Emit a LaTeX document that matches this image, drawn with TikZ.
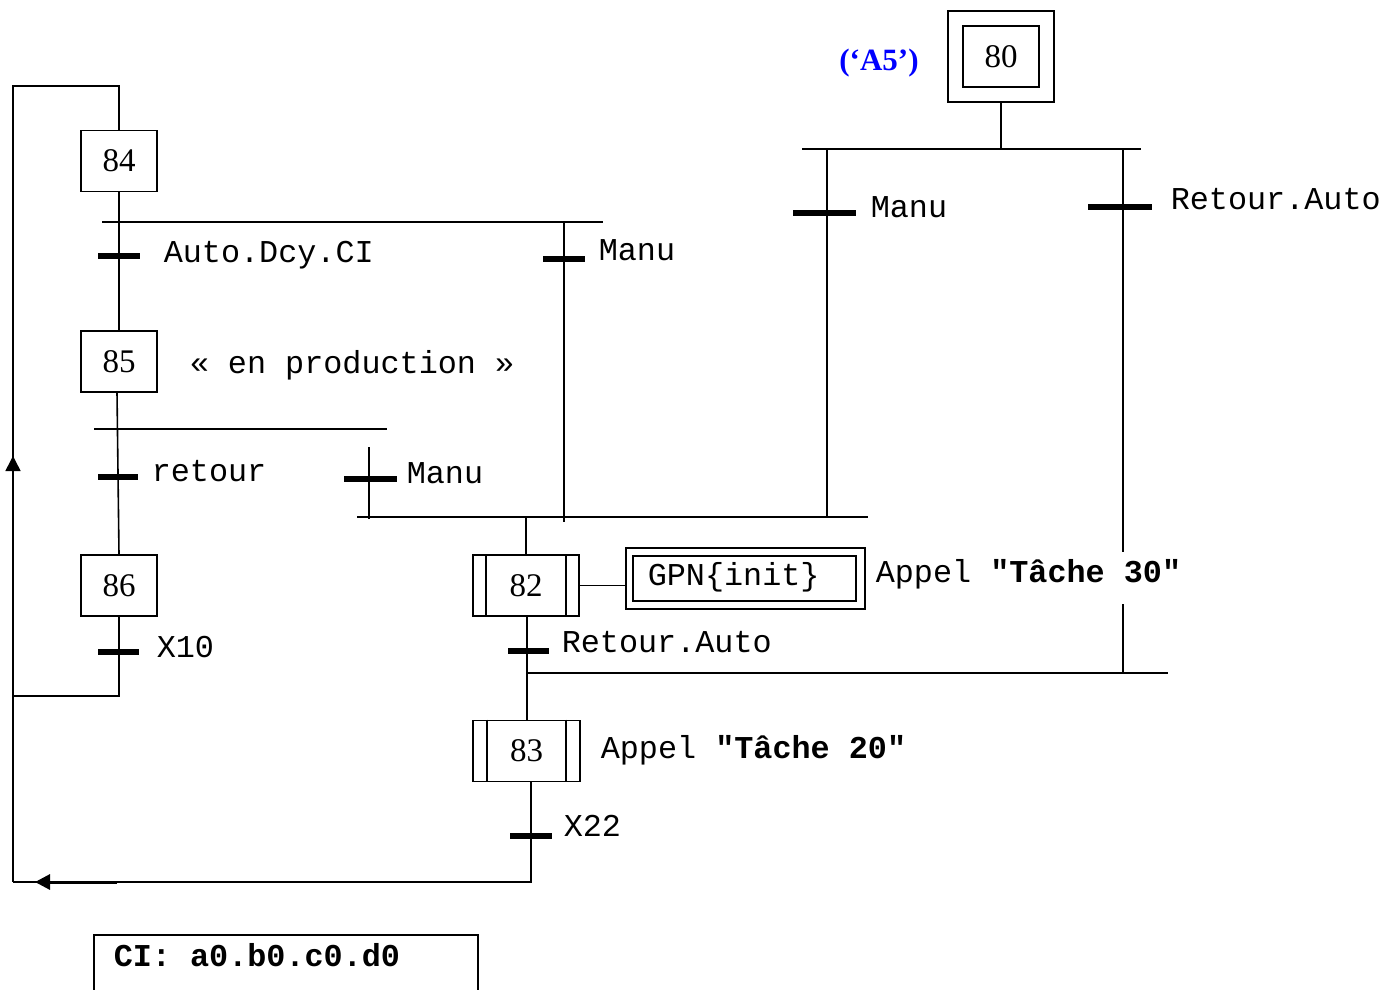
\documentclass[tikz,border=0pt]{standalone}
\usepackage{fontspec}
\setmainfont{Liberation Serif}
\setmonofont{Liberation Mono}
\usetikzlibrary{calc,arrows.meta}
\begin{document}
\begin{tikzpicture}[x=1pt,y=-1pt,line width=1.6pt,
  stepbox/.style={draw, minimum width=76pt, minimum height=61pt, inner sep=0pt, font=\fontsize{33}{36}\selectfont},
  macrobox/.style={draw, minimum width=106pt, minimum height=61pt, inner sep=0pt, font=\fontsize{33}{36}\selectfont},
  trbar/.style={line width=6pt},
  lbl/.style={anchor=base west, inner sep=0pt, font=\ttfamily\fontsize{31.8}{36}\selectfont},
  arr/.style={-{Triangle[length=15pt,width=15pt]}}
]
\useasboundingbox (0,0) rectangle (1397,989);

% ---- initial step 80
\node[draw, minimum width=106pt, minimum height=91pt, inner sep=0pt] (s80o) at (1001,56.5) {};
\node[stepbox] (s80) at (1001,56.5) {80};
\node[anchor=base, inner sep=0pt, text=blue, font=\bfseries\fontsize{31}{36}\selectfont] (a5) at (879,70) {(‘A5’)};
\coordinate (j80) at (1001,149);
\draw (s80o.south) -- (j80);
\draw (802,149) -- (1141,149);
% left branch Manu
\coordinate (m1t) at (827,149);
\coordinate (m1b) at (827,517);
\draw (m1t) -- (m1b);
\draw[trbar] (793,213) -- (856,213);
\node[lbl] (lm1) at (870,217) {Manu};
% right branch Retour.Auto
\coordinate (r1t) at (1123,149);
\coordinate (r1a) at (1123,552);
\coordinate (r1c) at (1123,604);
\coordinate (r1b) at (1123,673);
\draw (r1t) -- (r1a);
\draw (r1c) -- (r1b);
\draw[trbar] (1088,207) -- (1152,207);
\node[lbl] (lr1) at (1170,209) {Retour.Auto};

% ---- step 84 and loop
\node[stepbox] (s84) at (119,161) {84};
\coordinate (lt) at (119,86);
\coordinate (ltl) at (13,86);
\coordinate (lbl) at (13,882);
\draw (s84.north) -- (lt) -- (ltl) -- (lbl);
\draw[arr] (13,490) -- (13,456);

\draw (102,222) -- (603,222);
\node[stepbox] (s85) at (119,361.5) {85};
\draw (s84.south) -- (s85.north);
\draw[trbar] (98,256) -- (140,256);
\node[lbl] (la) at (163,262) {Auto.Dcy.CI};
% Manu branch from 84
\coordinate (m2t) at (564,222);
\coordinate (m2b) at (564,522);
\draw (m2t) -- (m2b);
\draw[trbar] (543,259) -- (585,259);
\node[lbl] (lm2) at (598,260) {Manu};

\node[lbl] (lp) at (189,373) {« en production »};

% ---- from 85
\draw (94,429) -- (387,429);
\node[stepbox] (s86) at (119,585.5) {86};
\draw (117,392) -- (s86.north);
\draw[trbar] (98,477) -- (138,477);
\node[lbl] (lret) at (151,481) {retour};
\coordinate (m3t) at (369,447);
\coordinate (m3b) at (369,519);
\draw (m3t) -- (m3b);
\draw[trbar] (344,479) -- (397,479);
\node[lbl] (lm3) at (406,483) {Manu};

% convergence
\draw (357,517) -- (868,517);

% step 86
\coordinate (x10b) at (119,697);
\draw (s86.south) -- (x10b);
\draw[trbar] (98,652) -- (139,652);
\node[lbl] (lx10) at (156,657) {X10};
\draw (13,696) -- (119,696);

% ---- step 82
\node[macrobox] (s82) at (526,585.5) {82};
\draw ($(s82.north west)+(14,0)$) -- ($(s82.south west)+(14,0)$);
\draw ($(s82.north east)+(-14,0)$) -- ($(s82.south east)+(-14,0)$);
\draw (526,517) -- (s82.north);
\node[draw, minimum width=239pt, minimum height=61pt, inner sep=0pt] (gpno) at (745.5,578.5) {};
\node[draw, minimum width=223pt, minimum height=45pt, inner sep=0pt] (gpni) at (744.5,578.5) {};
\node[lbl] (gpnt) at (647,585) {GPN\{init\}};
\draw (s82.east) -- (s82.east -| gpno.west);
\node[lbl] (ap30) at (875,582) {Appel \textbf{"Tâche 30"}};

% ---- step 83
\node[macrobox, minimum width=107pt] (s83) at (526.5,751) {83};
\draw ($(s83.north west)+(14.5,0)$) -- ($(s83.south west)+(14.5,0)$);
\draw ($(s83.north east)+(-15,0)$) -- ($(s83.south east)+(-15,0)$);
\draw (527,616) -- (527,720);
\draw[trbar] (508,651) -- (549,651);
\node[lbl] (lr2) at (561,652) {Retour.Auto};
\draw (527,673) -- (1168,673);
\node[lbl] (ap20) at (600,758) {Appel \textbf{"Tâche 20"}};

% ---- after 83
\coordinate (x22b) at (531,882);
\draw (531,782) -- (x22b) -- (lbl);
\draw[trbar] (510,836) -- (552,836);
\node[lbl] (lx22) at (563,836) {X22};
\draw[line width=3pt, arr] (117,882) -- (35,882);

% ---- CI box
\node[draw, anchor=north west, minimum width=384pt, minimum height=70pt, inner sep=0pt] (cibox) at (93,934) {};
\node[lbl, font=\ttfamily\bfseries\fontsize{31.8}{36}\selectfont] (citxt) at (113,966) {CI: a0.b0.c0.d0};
\end{tikzpicture}
\end{document}
